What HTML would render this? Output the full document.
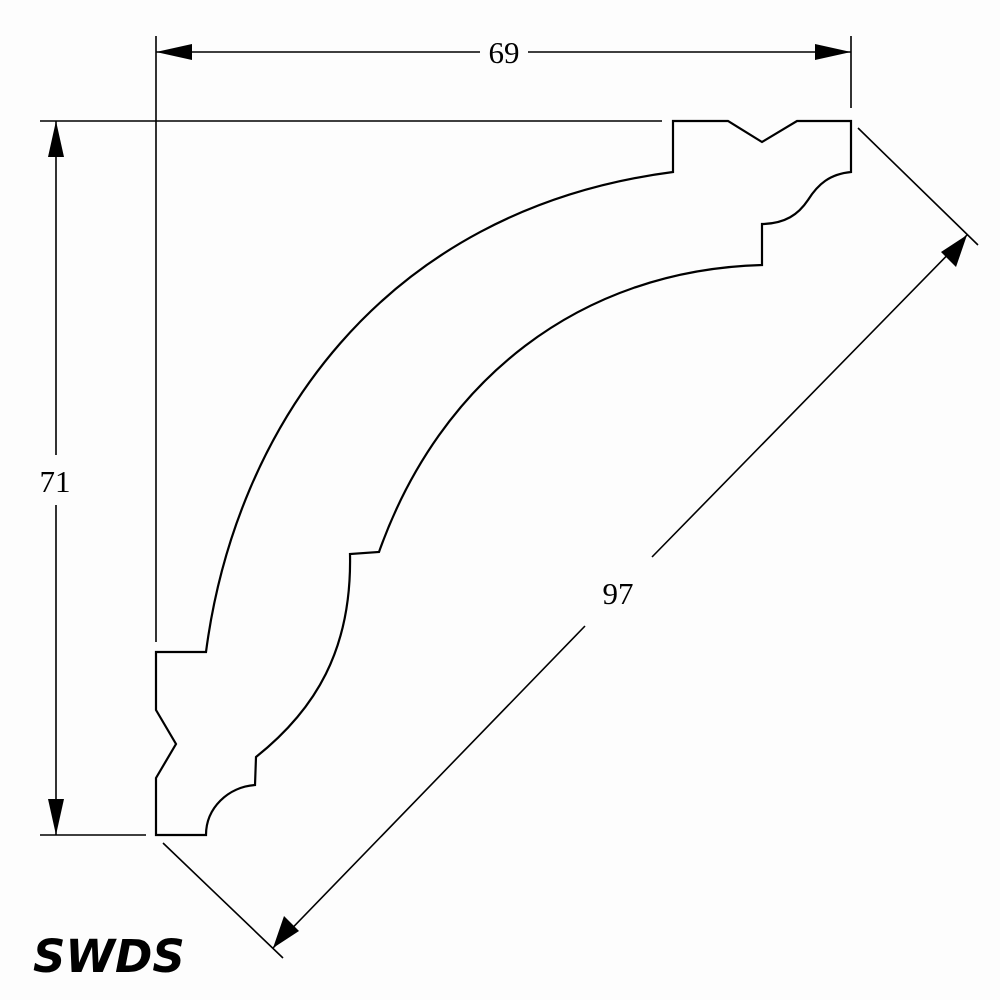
<!DOCTYPE html>
<html><head><style>
html,body{margin:0;padding:0;background:#fdfdfd;}
svg{display:block;}
</style></head><body>
<svg width="1000" height="1000" viewBox="0 0 1000 1000" xmlns="http://www.w3.org/2000/svg">
<rect width="1000" height="1000" fill="#fdfdfd"/>
<g stroke="#000" stroke-width="1.6" fill="none">
<line x1="156" y1="36" x2="156" y2="642"/>
<line x1="851" y1="36" x2="851" y2="108"/>
<line x1="40" y1="121" x2="662" y2="121"/>
<line x1="40" y1="835" x2="146" y2="835"/>
<line x1="858" y1="128" x2="978" y2="245"/>
<line x1="163" y1="843" x2="283" y2="958"/>
<line x1="156" y1="52" x2="480" y2="52"/>
<line x1="528" y1="52" x2="851" y2="52"/>
<line x1="56" y1="121" x2="56" y2="455"/>
<line x1="56" y1="505" x2="56" y2="835"/>
<line x1="967" y1="235" x2="652" y2="557"/>
<line x1="585" y1="626" x2="273" y2="948"/>
<path stroke-width="2.2" stroke-linejoin="miter" d="M673,121 L728,121 L762,142 L797,121 L851,121 L851,172 C830,174 818,184 808,200 C798,215 785,223 764,224 L762,224 L762,265 C580,270 440,380 379,552 L350,554 C352,650 315,710 256,757 L255,785 C228,787 206,808 206,835 L156,835 L156,778 L176,744 L156,710 L156,652 L206,652 C235,430 380,210 673,172 Z"/>
</g>
<g fill="#000">
<polygon points="156,52 192,44 192,60"/>
<polygon points="851,52 815,44 815,60"/>
<polygon points="56,121 48,157 64,157"/>
<polygon points="56,835 48,799 64,799"/>
<polygon points="967,235 956,267 941,252"/>
<polygon points="273,948 284,916 299,931"/>
</g>
<g font-family="Liberation Serif, serif" font-size="31" fill="#000" text-anchor="middle">
<text x="504" y="63">69</text>
<text x="55" y="492">71</text>
<text x="618" y="604">97</text>
</g>
<text x="33" y="972" font-family="DejaVu Sans, sans-serif" font-weight="bold" font-style="italic" font-size="45" fill="#000">SWDS</text>
</svg>
</body></html>
